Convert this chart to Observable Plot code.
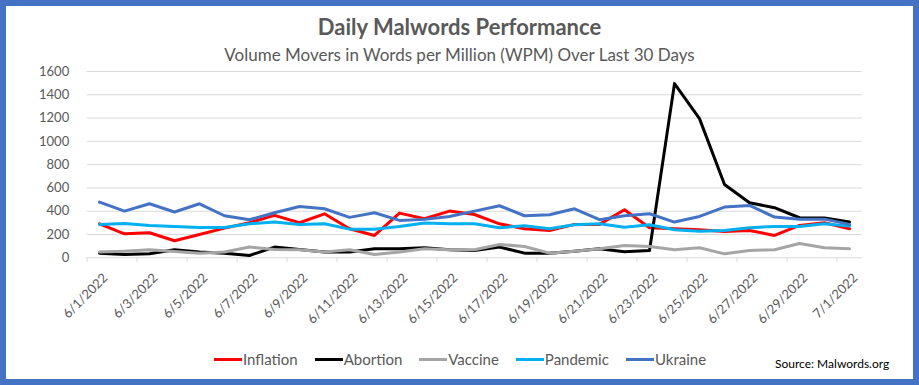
<!DOCTYPE html>
<html><head><meta charset="utf-8">
<script src="https://cdn.jsdelivr.net/npm/d3@7"></script>
<script src="https://cdn.jsdelivr.net/npm/@observablehq/plot@0.6"></script>
<style>
body{margin:0;background:#fff;}
#wrap{position:relative;width:919px;height:385px;overflow:hidden;font-family:Lato,"Open Sans",sans-serif;color:#595959;background:#fff;}
#wrap svg{position:absolute;left:0;top:0;}
#frame{position:absolute;left:0;top:0;width:919px;height:385px;box-sizing:border-box;border:6px solid #4472C4;pointer-events:none;}
#title{position:absolute;left:0;right:0;top:14px;line-height:26px;text-align:center;font-size:22px;font-weight:bold;color:#595959;}
#subtitle{position:absolute;left:0;right:0;top:44px;line-height:22px;text-align:center;font-size:17px;color:#595959;}
#legend{position:absolute;left:214px;top:349px;display:flex;gap:17px;font-size:15px;line-height:20px;color:#595959;}
#legend .it{display:flex;align-items:center;gap:1px;}
#legend .sw{display:inline-block;width:28px;height:3px;}
#source{position:absolute;left:775px;top:356px;font-size:12px;line-height:16px;color:#000;}
</style>
</head><body>
<div id="wrap">
  <div id="title">Daily Malwords Performance</div>
  <div id="subtitle">Volume Movers in Words per Million (WPM) Over Last 30 Days</div>
  <div id="legend"></div>
  <div id="source">Source: Malwords.org</div>
  <div id="frame"></div>
</div>
<script>
const dates = ["6/1/2022","6/2/2022","6/3/2022","6/4/2022","6/5/2022","6/6/2022","6/7/2022","6/8/2022","6/9/2022","6/10/2022",
  "6/11/2022","6/12/2022","6/13/2022","6/14/2022","6/15/2022","6/16/2022","6/17/2022","6/18/2022","6/19/2022","6/20/2022",
  "6/21/2022","6/22/2022","6/23/2022","6/24/2022","6/25/2022","6/26/2022","6/27/2022","6/28/2022","6/29/2022","6/30/2022","7/1/2022"];
const seriesNames = ["Inflation","Abortion","Vaccine","Pandemic","Ukraine"];
const seriesColors = ["#FF0000","#000000","#A5A5A5","#00B0F0","#4472C4"];
const inflation = [292,206,215,146,200,255,301,364,301,378,249,192,384,335,401,372,292,249,235,287,287,413,258,249,241,226,235,192,278,301,249];
const abortion  = [40,29,34,69,49,40,20,92,72,49,49,77,77,86,69,63,92,40,40,57,77,52,63,1496,1195,630,473,430,344,341,307];
const vaccine   = [49,57,69,54,40,49,92,72,69,49,69,29,49,77,69,69,115,97,40,57,77,106,97,69,86,34,63,69,123,86,77];
const pandemic  = [287,295,278,269,261,261,292,307,287,292,246,246,269,298,292,292,258,275,249,284,292,262,284,241,229,235,258,269,269,292,272];
const ukraine   = [478,401,464,393,464,361,327,387,441,421,347,387,321,330,355,401,447,361,370,421,327,361,378,307,355,436,450,350,332,332,287];
const yTicks = [0,200,400,600,800,1000,1200,1400,1600];
const labelDates = dates.filter((d, i) => i % 2 === 0);

const allSeries = [inflation, abortion, vaccine, pandemic, ukraine];
const tidy = [];
seriesNames.forEach((name, s) => allSeries[s].forEach((v, i) => tidy.push({series: name, date: dates[i], value: v})));

const chart = Plot.plot({
  width: 919, height: 385,
  marginTop: 71, marginBottom: 127.7, marginLeft: 86.7, marginRight: 57.3,
  style: {fontFamily: "Lato, 'Open Sans', sans-serif", background: "transparent", color: "#595959"},
  x: {type: "point", domain: dates, padding: 0.5, axis: null},
  y: {domain: [0, 1600], axis: null},
  color: {domain: seriesNames, range: seriesColors},
  marks: [
    Plot.ruleY(yTicks, {stroke: "#d9d9d9", strokeWidth: 1}),
    Plot.ruleX(labelDates, {x: d => d, y1: 0, y2: -42, dx: -12.5, stroke: "#d9d9d9"}),
    Plot.axisY(yTicks, {tickSize: 0, tickPadding: 18, label: null, fontSize: 13, color: "#595959", tickFormat: d => String(d)}),
    Plot.text(labelDates, {x: d => d, y: 0, text: d => d, rotate: -45, textAnchor: "end", dx: 6, dy: 18, fontSize: 13, fill: "#595959"}),
    Plot.line(tidy, {x: "date", y: "value", z: "series", stroke: "series", strokeWidth: 3, strokeLinejoin: "round"})
  ]
});
document.getElementById("wrap").insertBefore(chart, document.getElementById("title"));

const legend = document.getElementById("legend");
seriesNames.forEach((name, i) => {
  const it = document.createElement("div"); it.className = "it";
  const sw = document.createElement("span"); sw.className = "sw"; sw.style.background = seriesColors[i];
  const tx = document.createElement("span"); tx.textContent = name;
  it.appendChild(sw); it.appendChild(tx); legend.appendChild(it);
});
</script>
</body></html>
